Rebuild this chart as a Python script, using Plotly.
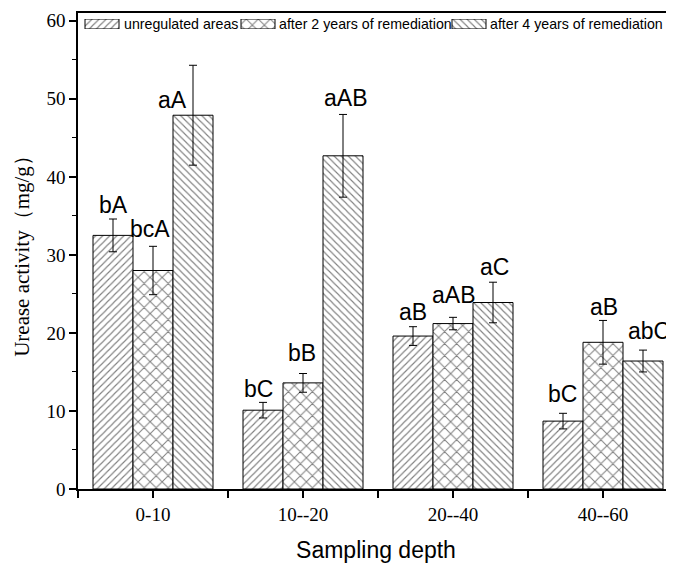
import plotly.graph_objects as go

depths = ["0-10", "10--20", "20--40", "40--60"]
series_names = ["unregulated areas", "after 2 years of remediation", "after 4 years of remediation"]
unregulated = [32.5, 10.1, 19.6, 8.7]
unregulated_err = [2.1, 1.0, 1.2, 1.0]
years2 = [28.0, 13.6, 21.2, 18.8]
years2_err = [3.1, 1.2, 0.8, 2.8]
years4 = [47.9, 42.7, 23.9, 16.4]
years4_err = [6.4, 5.3, 2.6, 1.4]

labels_unreg = ["bA", "bC", "aB", "bC"]
labels_y2 = ["bcA", "bB", "aAB", "aB"]
labels_y4 = ["aA", "aAB", "aC", "abC"]

values = [unregulated, years2, years4]
errors = [unregulated_err, years2_err, years4_err]
labels = [labels_unreg, labels_y2, labels_y4]
patterns = ["/", "x", "\\"]
pat_size = [5, 8.5, 5]

PLOT_W = 596  # plot-area width in px
# legend key layout (px from plot-area left)
key_left = [7, 163, 374]
key_w = 34
text_left = [45, 200, 411]

xs = list(range(len(depths)))
fig = go.Figure()
for k in range(3):
    pat = dict(shape=patterns[k], fgcolor="black", bgcolor="white",
               size=pat_size[k], solidity=0.22)
    fig.add_trace(go.Bar(
        x=xs, y=values[k], name=series_names[k], showlegend=False,
        marker=dict(color="white", line=dict(color="black", width=1), pattern=pat),
        error_y=dict(type="data", array=errors[k], color="black", thickness=1, width=4),
    ))
    fig.add_trace(go.Bar(
        x=[key_left[k] + key_w / 2], y=[1], width=[key_w], base=[0],
        xaxis="x2", yaxis="y2", showlegend=False, hoverinfo="skip",
        marker=dict(color="white", line=dict(color="black", width=1), pattern=pat),
    ))
    fig.add_annotation(
        xref="paper", yref="paper", x=text_left[k] / PLOT_W, y=0.977,
        xanchor="left", yanchor="middle", showarrow=False, text=series_names[k],
        borderpad=0, font=dict(family="Liberation Sans", size=14.2, color="black"))

bar_off = [-0.2667, 0.0, 0.2667]
label_dx = [[0.0, -0.03, 0.0, -0.003],
            [-0.017, -0.01, 0.0, 0.004],
            [-0.14, 0.015, 0.01, 0.04]]
label_dy = [[4, 3, 5, 9],
            [7, 11, 12, 3],
            [-45, 6, 5, 9]]
for k in range(3):
    for i in xs:
        fig.add_annotation(
            x=i + bar_off[k] + label_dx[k][i], y=values[k][i] + errors[k][i],
            text=labels[k][i], showarrow=False, yanchor="bottom", xanchor="center",
            yshift=label_dy[k][i] - 5,
            font=dict(family="Liberation Sans", size=23, color="black"))

fig.update_layout(
    width=666, height=555,
    margin=dict(l=70, r=0, t=5, b=74),
    paper_bgcolor="white", plot_bgcolor="white",
    barmode="group", bargap=0.2, bargroupgap=0,
    showlegend=False,
    xaxis=dict(
        range=[-0.5, -0.5 + PLOT_W / 150], tickvals=xs, ticktext=depths,
        showline=True, linecolor="black", linewidth=2, mirror=True,
        ticks="outside", ticklen=7, tickwidth=1.5, tickcolor="black",
        minor=dict(tickvals=[-0.5, 0.5, 1.5, 2.5, 3.5], ticks="outside", ticklen=7,
                   tickwidth=1.5, tickcolor="black"),
        showgrid=False, zeroline=False,
        tickfont=dict(family="Liberation Serif", size=19, color="black"),
        title=dict(text="Sampling depth", standoff=18,
                   font=dict(family="Liberation Sans", size=23, color="black")),
    ),
    yaxis=dict(
        range=[0, 61], tickvals=[0, 10, 20, 30, 40, 50, 60],
        showline=True, linecolor="black", linewidth=1.5, mirror=False,
        ticks="outside", ticklen=7, tickwidth=1.5, tickcolor="black",
        minor=dict(dtick=5, tick0=0, ticks="outside", ticklen=4, tickwidth=1, tickcolor="black"),
        showgrid=False, zeroline=False,
        tickfont=dict(family="Liberation Serif", size=19, color="black"),
        title=dict(text="Urease activity（mg/g）", standoff=11,
                   font=dict(family="Liberation Serif", size=21, color="black")),
    ),
    xaxis2=dict(domain=[0, 1], range=[0, PLOT_W], visible=False, anchor="y2", fixedrange=True),
    yaxis2=dict(domain=[0.9664, 0.9874], range=[0, 1], visible=False, anchor="x2", fixedrange=True),
)

fig.write_html("out.html")
